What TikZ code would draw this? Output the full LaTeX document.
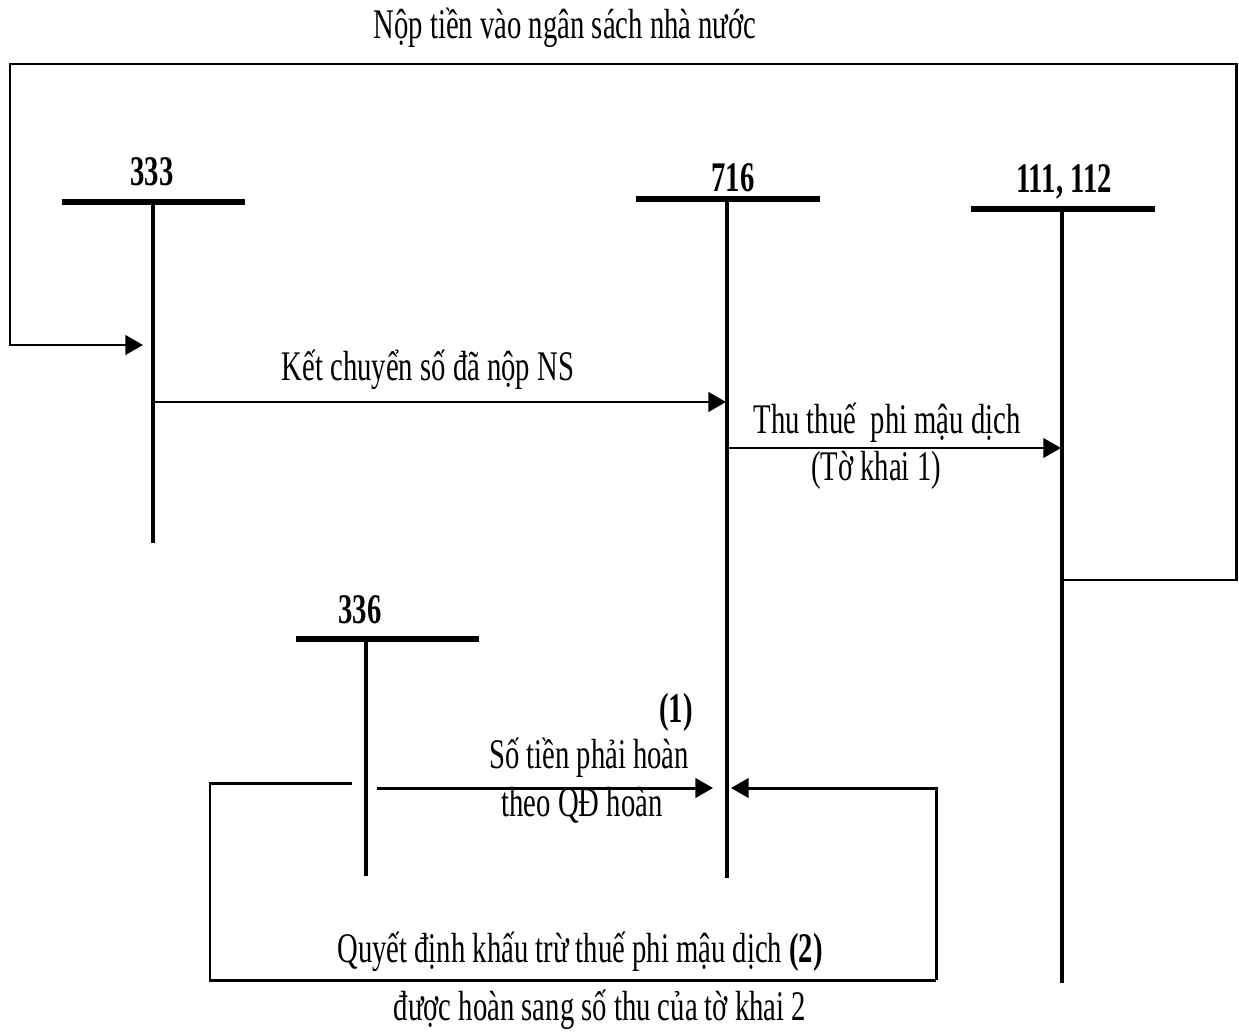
\documentclass[tikz,border=0pt]{standalone}
\usepackage{fontspec}
\setmainfont{Liberation Serif}
\usetikzlibrary{arrows.meta}
\newcommand{\sq}[1]{\scalebox{0.68}[1]{#1}}
\tikzset{
  lbl/.style={inner sep=0pt, font=\fontsize{24}{28}\selectfont},
  acc/.style={inner sep=0pt, font=\fontsize{24}{28}\selectfont\bfseries},
  bar/.style={line width=3.6pt},
  stem/.style={line width=2.4pt},
  conn/.style={line width=1.7pt},
  arr/.style={conn, -{Triangle[length=10pt,width=11pt]}},
}
\begin{document}
\begin{tikzpicture}[x=0.02cm,y=-0.02cm]
\useasboundingbox (0,0) rectangle (1239,1033);
% T-accounts
\coordinate (a333L) at (62,202); \coordinate (a333R) at (245,202);
\coordinate (a333T) at (153,202); \coordinate (a333B) at (153,543);
\coordinate (a716L) at (636,199); \coordinate (a716R) at (820,199);
\coordinate (a716T) at (727,199); \coordinate (a716B) at (727,878);
\coordinate (a111L) at (971,209); \coordinate (a111R) at (1155,209);
\coordinate (a111T) at (1062,209); \coordinate (a111B) at (1062,983);
\coordinate (a336L) at (296,639); \coordinate (a336R) at (479,639);
\coordinate (a336T) at (366,639); \coordinate (a336B) at (366,876);
\draw[bar] (a333L) -- (a333R); \draw[stem] (a333T) -- (a333B);
\draw[bar] (a716L) -- (a716R); \draw[stem] (a716T) -- (a716B);
\draw[bar] (a111L) -- (a111R); \draw[stem] (a111T) -- (a111B);
\draw[bar] (a336L) -- (a336R); \draw[stem] (a336T) -- (a336B);
\node[acc] (n333) at (152,172) {\sq{333}};
\node[acc] (n716) at (733,178) {\sq{716}};
\node[acc] (n111) at (1064,182) {\sq{111, 112}};
\node[acc] (n336) at (360,610) {\sq{336}};
% title and top loop
\node[lbl] (title) at (565,28) {\sq{Nộp tiền vào ngân sách nhà nước}};
\coordinate (p1) at (1062,580);
\coordinate (p2) at (1236,580);
\coordinate (p3) at (1236,64);
\coordinate (p4) at (10,64);
\coordinate (p5) at (10,345);
\coordinate (p6) at (143,345);
\draw[arr] (p1) -- (p2) -- (p3) -- (p4) -- (p5) -- (p6);
% Ket chuyen
\coordinate (k1) at (153,402);
\coordinate (k2) at (726,402);
\draw[arr] (k1) -- (k2);
\node[lbl] (kc) at (428,370) {\sq{Kết chuyển số đã nộp NS}};
% Thu thue
\coordinate (t1) at (727,448);
\coordinate (t2) at (1061,448);
\draw[arr] (t1) -- (t2);
\node[lbl] (tt1) at (887,423) {\sq{Thu thuế\ \ phi mậu dịch}};
\node[lbl] (tt2) at (876,470) {\sq{(Tờ khai 1)}};
% 336 -> 716
\coordinate (s1) at (377,788);
\coordinate (s2) at (713,788);
\draw[arr] (s1) -- (s2);
\node[acc] (one) at (676,712) {\sq{(1)}};
\node[lbl] (st1) at (589,758) {\sq{Số tiền phải hoàn}};
\node[lbl] (st2) at (582,805) {\sq{theo QĐ hoàn}};
% bottom loop
\coordinate (b1) at (352,783);
\coordinate (b2) at (210,783);
\coordinate (b3) at (210,980);
\coordinate (b4) at (936,980);
\coordinate (b5) at (936,788);
\coordinate (b6) at (731,788);
\draw[conn] (b1) -- (b2) -- (b3) -- (b4);
\draw[arr] (b4) -- (b5) -- (b6);
\node[lbl] (qd) at (580,952) {\sq{Quyết định khấu trừ thuế phi mậu dịch \textbf{(2)}}};
\node[lbl] (dh) at (600,1010) {\sq{được hoàn sang số thu của tờ khai 2}};
\end{tikzpicture}
\end{document}
